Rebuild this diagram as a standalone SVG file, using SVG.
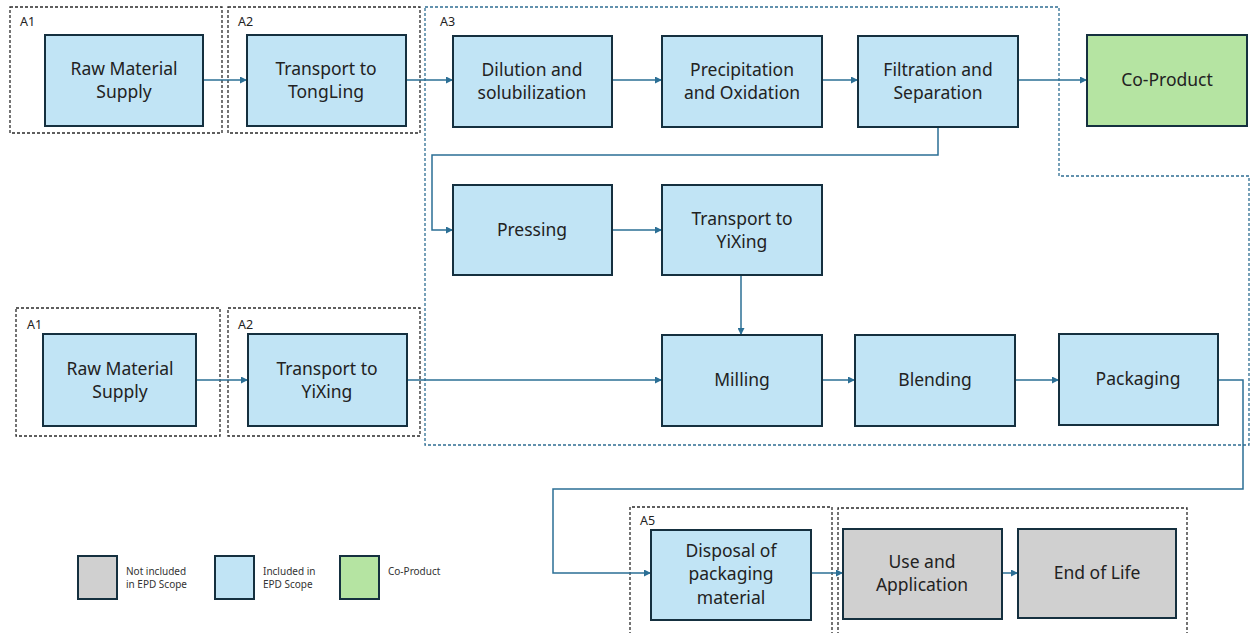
<svg xmlns="http://www.w3.org/2000/svg" width="1250" height="633" viewBox="0 0 1250 633">
<defs>
<style>
.box{stroke:#15303f;stroke-width:2}
.inc{fill:#c1e4f5}
.not{fill:#d0d0d0}
.co{fill:#b5e4a2}
.t{font-family:"Noto Sans","Liberation Sans",sans-serif;font-size:17.5px;fill:#222;text-anchor:middle}
.lab{font-family:"Noto Sans","Liberation Sans",sans-serif;font-size:12.5px;fill:#222}
.leg{font-family:"Noto Sans","Liberation Sans",sans-serif;font-size:10px;fill:#333}
.scope{fill:none;stroke:#2a2a2a;stroke-width:1.3;stroke-dasharray:3 2}
.scopeb{fill:none;stroke:#2f6e93;stroke-width:1.3;stroke-dasharray:3 2}
.c{fill:none;stroke:#2b6f95;stroke-width:1.5}
</style>
<marker id="ah" viewBox="0 0 10 10" refX="10" refY="5" markerWidth="7" markerHeight="7" orient="auto" markerUnits="userSpaceOnUse">
<path d="M0,0 L10,5 L0,10 z" fill="#2b6f95"/>
</marker>
</defs>
<rect width="1250" height="633" fill="#fff"/>

<g id="scopes">
<rect class="scope" x="10" y="7" width="212" height="126"/>
<text class="lab" x="20" y="26">A1</text>
<rect class="scope" x="228" y="7" width="192" height="126"/>
<text class="lab" x="238" y="26">A2</text>
<path class="scopeb" d="M425,7 H1059 V176 H1249 V445 H425 Z"/>
<text class="lab" x="440" y="26">A3</text>
<rect class="scope" x="16" y="308" width="204" height="128"/>
<text class="lab" x="27" y="329">A1</text>
<rect class="scope" x="228" y="308" width="192" height="128"/>
<text class="lab" x="238" y="329">A2</text>
<path class="scope" d="M630,640 V507 H832 V640"/>
<text class="lab" x="640" y="525">A5</text>
<path class="scope" d="M838,640 V508 H1187 V640"/>
</g>

<g id="connectors">
<path class="c" d="M203,80 H247" marker-end="url(#ah)"/>
<path class="c" d="M406,80 H453" marker-end="url(#ah)"/>
<path class="c" d="M612,80 H662" marker-end="url(#ah)"/>
<path class="c" d="M822,80 H858" marker-end="url(#ah)"/>
<path class="c" d="M1018,80 H1087" marker-end="url(#ah)"/>
<path class="c" d="M938,127 V155 H432 V230 H453" marker-end="url(#ah)"/>
<path class="c" d="M612,230 H662" marker-end="url(#ah)"/>
<path class="c" d="M741,275 V335" marker-end="url(#ah)"/>
<path class="c" d="M196,380 H248" marker-end="url(#ah)"/>
<path class="c" d="M407,380 H662" marker-end="url(#ah)"/>
<path class="c" d="M822,380 H855" marker-end="url(#ah)"/>
<path class="c" d="M1015,380 H1059" marker-end="url(#ah)"/>
<path class="c" d="M1218,380 H1243 V489 H553 V573 H651" marker-end="url(#ah)"/>
<path class="c" d="M811,573 H843" marker-end="url(#ah)"/>
<path class="c" d="M1002,573 H1018" marker-end="url(#ah)"/>
</g>

<g id="n-raw1"><rect class="box inc" x="45" y="35" width="158" height="91"/><text class="t" x="124" y="75">Raw Material</text><text class="t" x="124" y="98">Supply</text></g>
<g id="n-trans-tl"><rect class="box inc" x="247" y="35" width="159" height="91"/><text class="t" x="326" y="75">Transport to</text><text class="t" x="326" y="98">TongLing</text></g>
<g id="n-dilution"><rect class="box inc" x="453" y="36" width="159" height="91"/><text class="t" x="532" y="76">Dilution and</text><text class="t" x="532" y="99">solubilization</text></g>
<g id="n-precip"><rect class="box inc" x="662" y="36" width="160" height="91"/><text class="t" x="742" y="76">Precipitation</text><text class="t" x="742" y="99">and Oxidation</text></g>
<g id="n-filtration"><rect class="box inc" x="858" y="36" width="160" height="91"/><text class="t" x="938" y="76">Filtration and</text><text class="t" x="938" y="99">Separation</text></g>
<g id="n-coproduct"><rect class="box co" x="1087" y="35" width="160" height="91"/><text class="t" x="1167" y="86">Co-Product</text></g>
<g id="n-pressing"><rect class="box inc" x="453" y="185" width="159" height="90"/><text class="t" x="532" y="236">Pressing</text></g>
<g id="n-trans-yx1"><rect class="box inc" x="662" y="185" width="160" height="90"/><text class="t" x="742" y="225">Transport to</text><text class="t" x="742" y="248">YiXing</text></g>
<g id="n-raw2"><rect class="box inc" x="43" y="334" width="153" height="92"/><text class="t" x="120" y="375">Raw Material</text><text class="t" x="120" y="398">Supply</text></g>
<g id="n-trans-yx2"><rect class="box inc" x="248" y="334" width="159" height="92"/><text class="t" x="327" y="375">Transport to</text><text class="t" x="327" y="398">YiXing</text></g>
<g id="n-milling"><rect class="box inc" x="662" y="335" width="160" height="91"/><text class="t" x="742" y="386">Milling</text></g>
<g id="n-blending"><rect class="box inc" x="855" y="335" width="160" height="91"/><text class="t" x="935" y="386">Blending</text></g>
<g id="n-packaging"><rect class="box inc" x="1059" y="334" width="159" height="91"/><text class="t" x="1138" y="385">Packaging</text></g>
<g id="n-disposal"><rect class="box inc" x="651" y="530" width="160" height="90"/><text class="t" x="731" y="557">Disposal of</text><text class="t" x="731" y="580">packaging</text><text class="t" x="731" y="604">material</text></g>
<g id="n-use"><rect class="box not" x="843" y="529" width="159" height="90"/><text class="t" x="922" y="568">Use and</text><text class="t" x="922" y="591">Application</text></g>
<g id="n-eol"><rect class="box not" x="1018" y="529" width="158" height="89"/><text class="t" x="1097" y="579">End of Life</text></g>

<g id="legend">
<rect class="box not" x="78" y="556" width="39" height="43"/>
<text class="leg" x="126" y="575">Not included</text><text class="leg" x="126" y="588">in EPD Scope</text>
<rect class="box inc" x="215" y="556" width="39" height="43"/>
<text class="leg" x="263" y="575">Included in</text><text class="leg" x="263" y="588">EPD Scope</text>
<rect class="box co" x="340" y="556" width="39" height="43"/>
<text class="leg" x="388" y="575">Co-Product</text>
</g>
</svg>
